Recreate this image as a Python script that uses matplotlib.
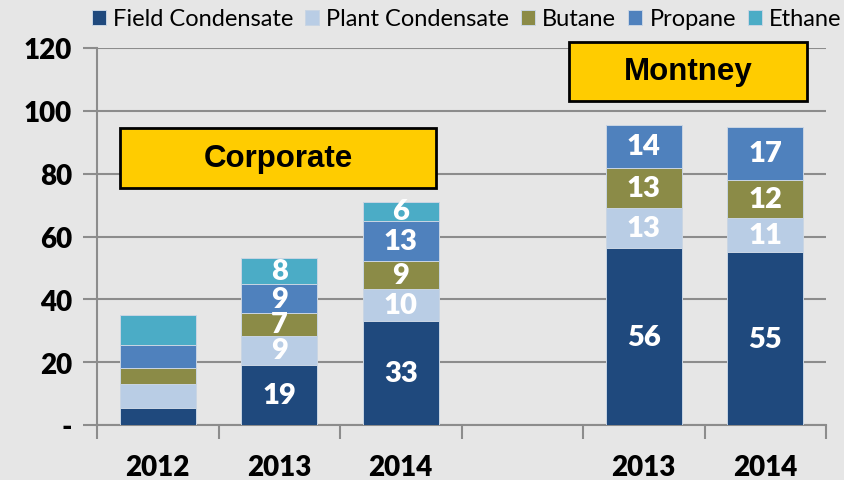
import matplotlib.pyplot as plt
from matplotlib.patches import Rectangle
import numpy as np

# categories (slot 3 is an empty gap between Corporate and Montney)
categories = ['2012', '2013', '2014', '', '2013', '2014']
series = ['Field Condensate', 'Plant Condensate', 'Butane', 'Propane', 'Ethane']
field = [5.5, 19.2, 33.2, 0, 56.2, 55]
plant = [7.5, 9.2, 10, 0, 12.8, 11]
butane = [5, 7.2, 9, 0, 12.8, 12]
propane = [7.5, 9.2, 12.8, 0, 13.8, 17]
ethane = [9.5, 8.2, 6, 0, 0, 0]
show_labels = [False, True, True, False, True, True]

colors = ['#1f497d', '#b9cde5', '#8b8b47', '#4f81bd', '#4bacc6']
bg = '#e6e6e6'

plt.rcParams['font.family'] = ['Lato', 'DejaVu Sans']

fig = plt.figure(figsize=(8.44, 4.81), dpi=100, facecolor=bg)
ax = fig.add_axes([97 / 844, 55 / 481, 729 / 844, 377 / 481])
ax.set_facecolor(bg)

x = np.arange(len(categories))
bottom = np.zeros(len(categories))
for name, vals, c in zip(series, [field, plant, butane, propane, ethane], colors):
    vals = np.array(vals, dtype=float)
    ax.bar(x, vals, 0.625, bottom=bottom, color=c, edgecolor='#c9d5e3',
           linewidth=0.7, label=name, zorder=3)
    for i in range(len(x)):
        if show_labels[i] and vals[i] > 0:
            ax.text(x[i], bottom[i] + vals[i] / 2, '%.0f' % vals[i], ha='center',
                    va='center', color='white', fontsize=21, fontweight='heavy',
                    zorder=4)
    bottom += vals

ax.set_xlim(-0.5, 5.5)
ax.set_ylim(0, 120)
ax.set_yticks([0, 20, 40, 60, 80, 100, 120])
ax.set_yticklabels(['-', '20', '40', '60', '80', '100', '120'])
ax.grid(axis='y', color='#8c8c8c', linewidth=1.5, zorder=0)
ax.tick_params(axis='y', length=10, width=1.5, color='#8c8c8c', labelsize=20, pad=8)
for lab in ax.get_yticklabels():
    lab.set_fontweight('heavy')

ax.set_xticks(np.arange(-0.5, 6, 1), minor=False)
ax.set_xticklabels([])
ax.set_xticks(x, minor=True)
ax.set_xticklabels(categories, minor=True, fontsize=20, fontweight='heavy')
ax.tick_params(axis='x', which='major', length=10, width=1.5, color='#8c8c8c')
ax.tick_params(axis='x', which='minor', length=0, pad=21)

for s in ['top', 'right']:
    ax.spines[s].set_visible(False)
for s in ['left', 'bottom']:
    ax.spines[s].set_color('#8c8c8c')
    ax.spines[s].set_linewidth(1.5)

# title boxes
boxes = [('Corporate', -0.31, 75.5, 2.6, 19.1), ('Montney', 3.385, 103.2, 1.955, 18.8)]
for txt, bx, by, bw, bh in boxes:
    ax.add_patch(Rectangle((bx, by), bw, bh, facecolor='#ffcc00', edgecolor='black',
                           linewidth=2, zorder=5, clip_on=False))
    ax.text(bx + bw / 2, by + bh / 2, txt, ha='center', va='center', fontsize=22.5,
            fontweight='bold', family='Liberation Sans', zorder=6, clip_on=False)

fig.legend(loc='upper right', bbox_to_anchor=(1.011, 1.005), ncol=5, frameon=False,
           fontsize=17, handlelength=0.6, handleheight=0.6, handletextpad=0.3,
           columnspacing=0.5, borderaxespad=0.1)

fig.savefig('out.png', dpi=100, facecolor=bg)
